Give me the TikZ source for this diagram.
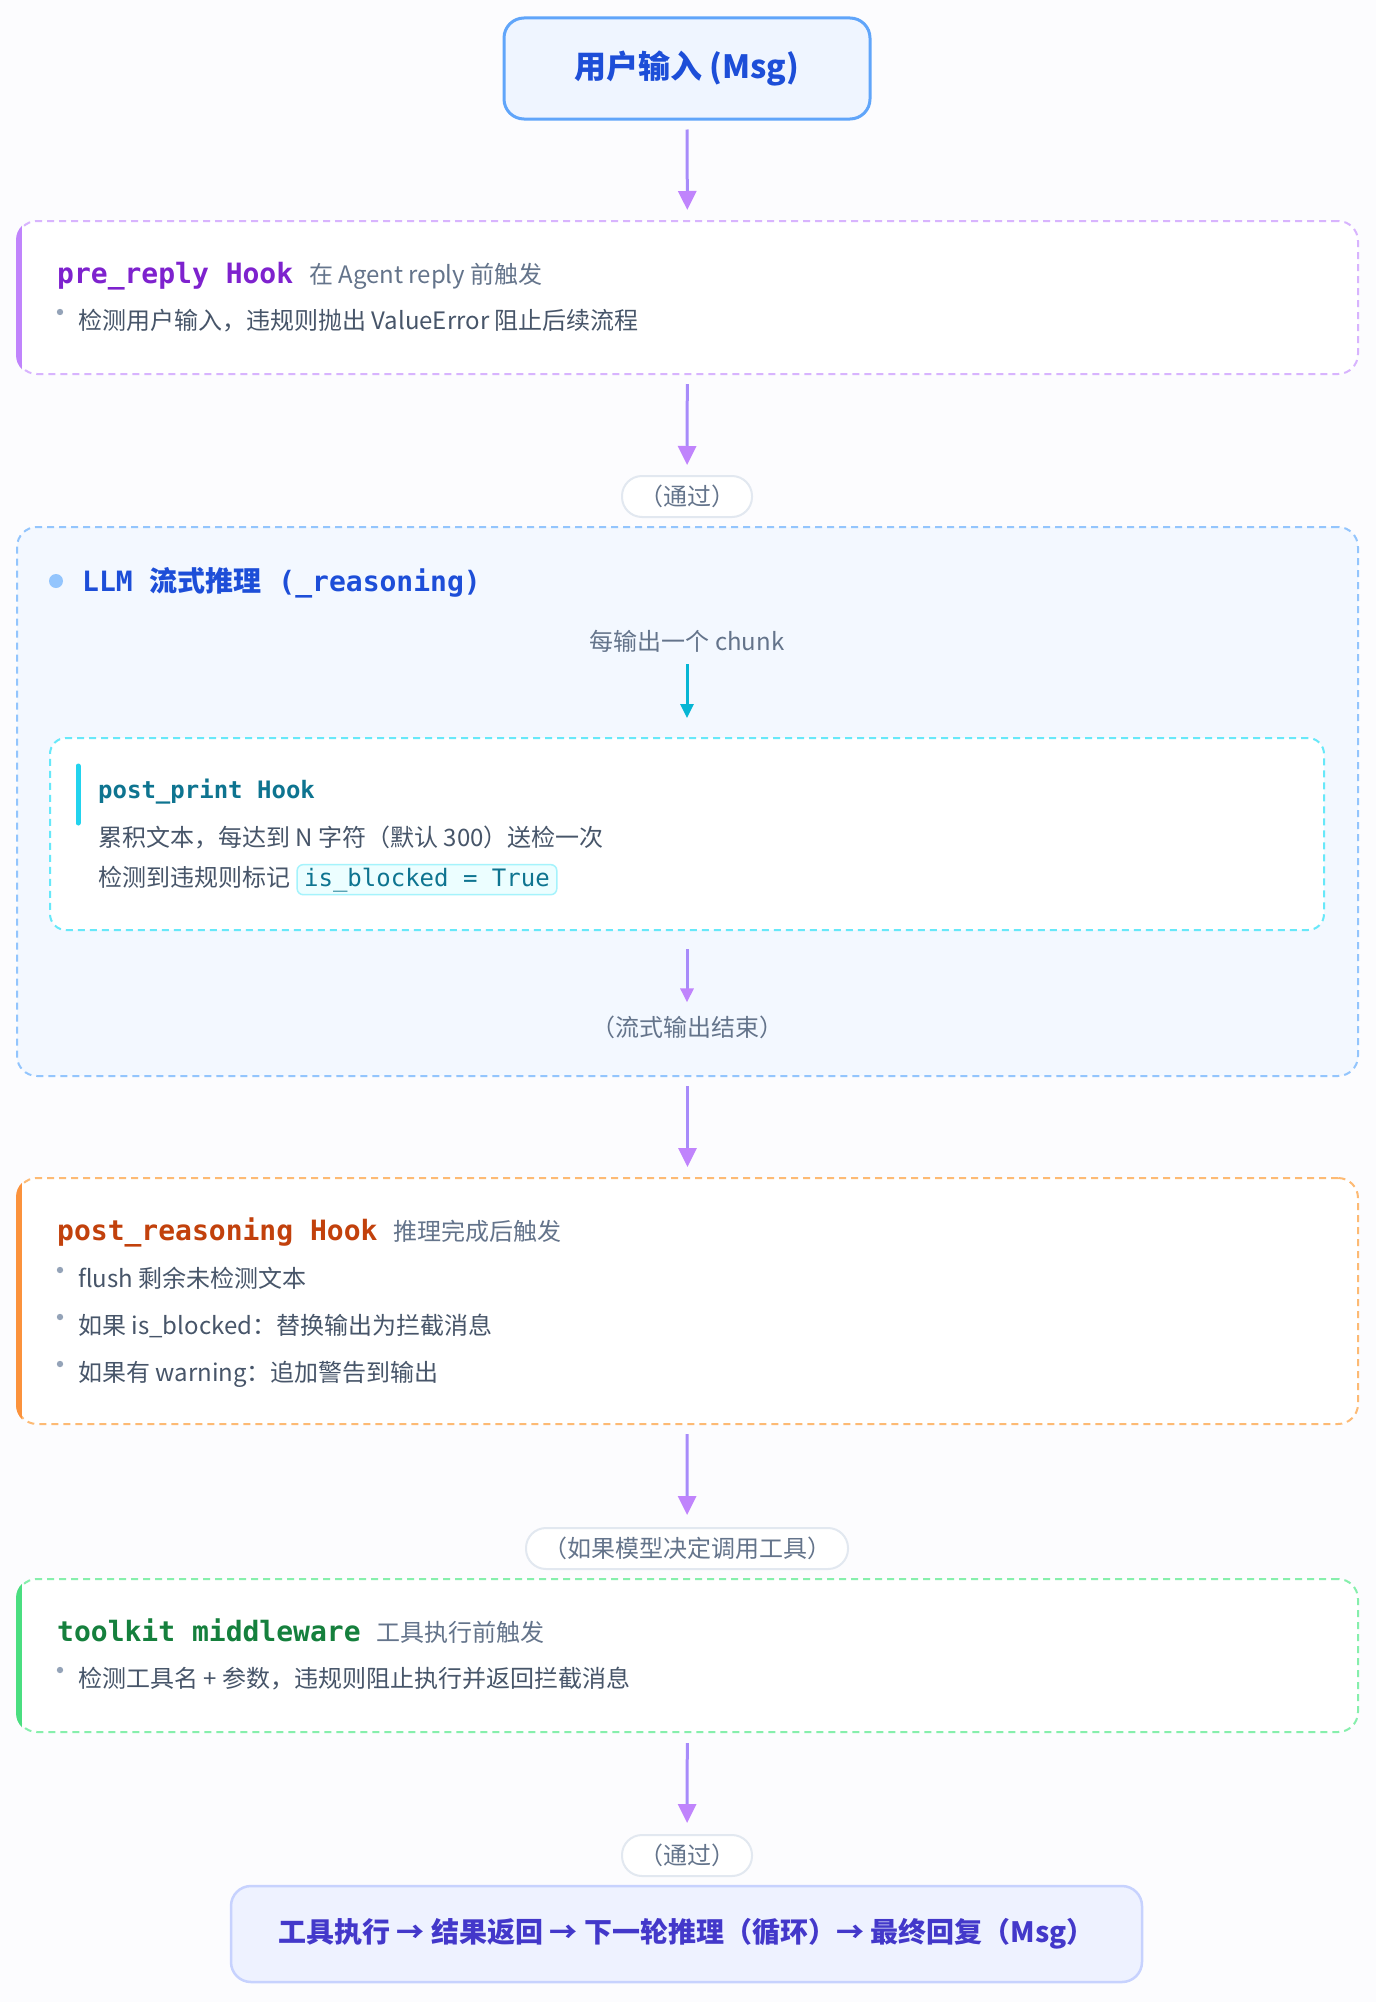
\documentclass[tikz,border=0pt]{standalone}
\usepackage{fontspec}
\setmainfont{Noto Sans CJK SC}
\setmonofont{DejaVu Sans Mono}
\usepackage{tikz}
\usetikzlibrary{arrows.meta,positioning}
\definecolor{PageBg}{HTML}{FCFCFE}
\definecolor{UserFill}{HTML}{EFF5FF}
\definecolor{UserLine}{HTML}{60A5FA}
\definecolor{UserInk}{HTML}{1D4ED8}
\definecolor{FlowShaft}{HTML}{A78BFA}
\definecolor{FlowHead}{HTML}{C084FC}
\definecolor{PreLine}{HTML}{D8B4FE}
\definecolor{PreBar}{HTML}{C084FC}
\definecolor{PreInk}{HTML}{7E22CE}
\definecolor{NoteGray}{HTML}{64748B}
\definecolor{ItemInk}{HTML}{475569}
\definecolor{DotGray}{HTML}{94A3B8}
\definecolor{LlmFill}{HTML}{F3F8FF}
\definecolor{LlmLine}{HTML}{93C5FD}
\definecolor{PrintLine}{HTML}{67E8F9}
\definecolor{PrintBar}{HTML}{22D3EE}
\definecolor{PrintInk}{HTML}{0E7490}
\definecolor{ChunkCyan}{HTML}{06B6D4}
\definecolor{BadgeFill}{HTML}{ECFEFF}
\definecolor{BadgeLine}{HTML}{A5F3FC}
\definecolor{ReasonLine}{HTML}{FDBA74}
\definecolor{ReasonBar}{HTML}{FB923C}
\definecolor{ReasonInk}{HTML}{C2410C}
\definecolor{ToolLine}{HTML}{86EFAC}
\definecolor{ToolBar}{HTML}{4ADE80}
\definecolor{ToolInk}{HTML}{15803D}
\definecolor{PillLine}{HTML}{E2E8F0}
\definecolor{FinalFill}{HTML}{EEF2FF}
\definecolor{FinalLine}{HTML}{C7D2FE}
\definecolor{FinalInk}{HTML}{4338CA}
\newcommand\hooknote[1]{\hspace{16pt}{\rmfamily\mdseries\fontsize{24}{28}\selectfont\color{NoteGray}#1}}

\begin{document}
\begin{tikzpicture}[x=1pt, y=-1pt,
  entry/.style={draw=UserLine, fill=UserFill, line width=3pt, rounded corners=20pt,
                minimum width=366pt, minimum height=101pt, text=UserInk,
                font=\fontsize{32}{38}\selectfont\bfseries},
  stage/.style={rounded corners=20pt, dash pattern=on 7pt off 5pt, line width=2pt,
                minimum width=1341pt, inner sep=0pt},
  hooktitle/.style={anchor=base west, inner sep=0pt,
                    font=\fontsize{28}{32}\selectfont\ttfamily\bfseries},
  item/.style={anchor=base west, inner sep=0pt, text=ItemInk,
               font=\fontsize{24}{28}\selectfont},
  note/.style={inner sep=0pt, text=NoteGray, font=\fontsize{24}{28}\selectfont},
  pill/.style={draw=PillLine, fill=white, line width=2pt, rounded corners=20pt,
               minimum height=41pt, inner xsep=17pt, inner ysep=0pt,
               text=NoteGray, font=\fontsize{24}{28}\selectfont},
  badge/.style={draw=BadgeLine, fill=BadgeFill, line width=1.5pt, rounded corners=6pt,
                inner xsep=7pt, inner ysep=3pt, text=PrintInk,
                font=\fontsize{24}{28}\selectfont\ttfamily},
  flow/.style={-{Triangle[length=19pt, width=18pt, color=FlowHead]}, line width=3pt,
               draw=FlowShaft, shorten <=9pt, shorten >=10pt},
  minor/.style={-{Triangle[length=14pt, width=13pt]}, line width=3pt}
]
\fill[PageBg] (0,0) rectangle (1376,2002);

% user input
\node[entry] (userIn) at (687,68.5) {用户输入 (Msg)};

% pre_reply hook
\node[stage, draw=PreLine, fill=white, minimum height=153pt] (preHook) at (687.5,297.5) {};
\node[hooktitle, text=PreInk] (preTitle) at (57,283)
  {pre\_reply Hook\hooknote{在 Agent reply 前触发}};
\fill[DotGray] (60,312) circle (3.2pt);
\node[item] (preItem) at (78,329) {检测用户输入，违规则抛出 ValueError 阻止后续流程};

\node[pill] (passA) at (687,496.5) {（通过）};

% streaming reasoning
\node[stage, draw=LlmLine, fill=LlmFill, minimum height=549pt] (llmBox) at (687.5,801.5) {};
\fill[LlmLine] (56,581) circle (7pt);
\node[hooktitle, text=UserInk] (llmTitle) at (82,591) {LLM {\rmfamily 流式推理} (\_reasoning)};
\node[note] (chunkNote) at (687,641) {每输出一个 chunk};

\node[stage, draw=PrintLine, fill=white, minimum width=1274pt, minimum height=192pt,
      rounded corners=16pt] (printHook) at (687,834) {};
\draw[PrintBar, line width=5pt, line cap=round] (78,766) -- (78,823);
\node[hooktitle, text=PrintInk, font=\fontsize{24}{28}\selectfont\ttfamily\bfseries]
  (printTitle) at (98,798) {post\_print Hook};
\node[item] (printLineA) at (98,846) {累积文本，每达到 N 字符（默认 300）送检一次};
\node[item] (printLineB) at (98,886) {检测到违规则标记};
\node[badge, anchor=base west] (blockedFlag) at ([xshift=6pt]printLineB.base east)
  {is\_blocked = True};
\node[note] (streamEnd) at (687,1027) {（流式输出结束）};

% post_reasoning hook
\node[stage, draw=ReasonLine, fill=white, minimum height=246pt] (reasonHook) at (687.5,1301) {};
\node[hooktitle, text=ReasonInk] (reasonTitle) at (57,1240)
  {post\_reasoning Hook\hooknote{推理完成后触发}};
\foreach \k/\yy/\txt in {A/1278/{flush 剩余未检测文本},
                         B/1325/{如果 is\_blocked：替换输出为拦截消息},
                         C/1372/{如果有 warning：追加警告到输出}} {
  \fill[DotGray] (60,\yy-8) circle (3.2pt);
  \node[item] (reasonItem\k) at (78,\yy+9) {\txt};
}

\node[pill] (toolPill) at (687,1548.5) {（如果模型决定调用工具）};

% toolkit middleware
\node[stage, draw=ToolLine, fill=white, minimum height=153pt] (toolHook) at (687.5,1655.5) {};
\node[hooktitle, text=ToolInk] (toolTitle) at (57,1641)
  {toolkit middleware\hooknote{工具执行前触发}};
\fill[DotGray] (60,1670) circle (3.2pt);
\node[item] (toolItem) at (78,1687) {检测工具名 + 参数，违规则阻止执行并返回拦截消息};

\node[pill] (passB) at (687,1855.5) {（通过）};

\node[draw=FinalLine, fill=FinalFill, line width=2.5pt, rounded corners=20pt,
      minimum width=911pt, minimum height=96pt, text=FinalInk,
      font=\fontsize{28}{34}\selectfont\bfseries] (finalOut) at (686.5,1934)
  {工具执行 → 结果返回 → 下一轮推理（循环）→ 最终回复（Msg）};

% left accent bars
\foreach \n/\c in {preHook/PreBar, reasonHook/ReasonBar, toolHook/ToolBar} {
  \begin{scope}
    \clip[rounded corners=20pt] (\n.north west) rectangle (\n.south east);
    \fill[\c] (\n.north west) rectangle ([xshift=6pt]\n.south west);
  \end{scope}
}

% connectors
\draw[flow] (userIn) -- (preHook);
\draw[flow] (preHook) -- (passA);
\draw[minor, draw=ChunkCyan, shorten <=12pt, shorten >=19pt] (chunkNote) -- (printHook);
\draw[minor, draw=FlowShaft, -{Triangle[length=14pt, width=13pt, color=FlowHead]},
      shorten <=18pt, shorten >=13pt] (printHook) -- (streamEnd);
\draw[flow] (llmBox) -- (reasonHook);
\draw[flow, shorten >=12pt] (reasonHook) -- (toolPill);
\draw[flow, shorten <=10pt, shorten >=11pt] (toolHook) -- (passB);
\end{tikzpicture}
\end{document}
